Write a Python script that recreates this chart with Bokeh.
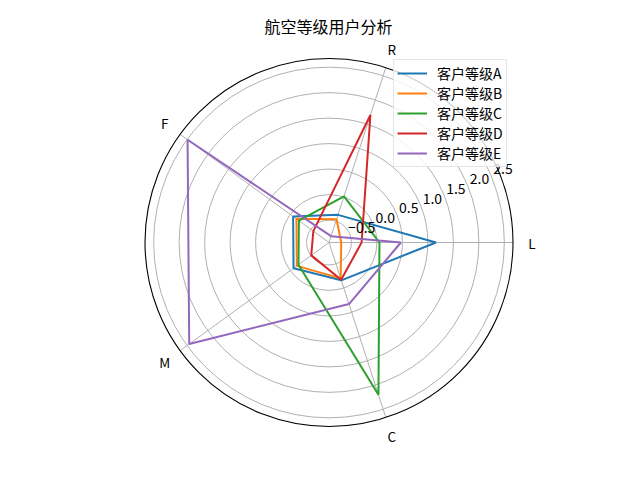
import numpy as np
from bokeh.plotting import figure
from bokeh.models import ColumnDataSource, Legend, LegendItem, Range1d
from bokeh.core.properties import value
from bokeh.embed import file_html
from bokeh.resources import INLINE

# ---- data ----
title_text = "航空等级用户分析"
features = ["L", "R", "F", "M", "C"]
series_names = ["客户等级A", "客户等级B", "客户等级C", "客户等级D", "客户等级E"]
level_A = [1.16, -0.37, -0.07, -0.08, -0.16]
level_B = [-0.70, -0.46, -0.15, -0.16, -0.20]
level_C = [0.05, 0.01, -0.21, -0.20, 2.20]
level_D = [-0.30, 1.69, -0.56, -0.51, -0.17]
level_E = [0.47, -0.81, 2.49, 2.45, 0.33]
r_ticks = [-0.5, 0.0, 0.5, 1.0, 1.5, 2.0, 2.5]
r_min, r_max = -0.94, 2.67

series_values = [level_A, level_B, level_C, level_D, level_E]
colors = ["#1f77b4", "#ff7f0e", "#2ca02c", "#d62728", "#9467bd"]

# ---- layout (pixel-like canvas units) ----
W, H = 640, 480
cx, cy = 328.5, H - 242.0
R_out = 184.0
scale = R_out / (r_max - r_min)
FONT = "Noto Sans CJK SC"

def rad(v):
    return (np.asarray(v, dtype=float) - r_min) * scale

angles = np.arange(len(features)) * 2 * np.pi / len(features)

p = figure(width=W, height=H, x_range=Range1d(0, W), y_range=Range1d(0, H),
           output_backend="svg", toolbar_location=None, min_border=0)
p.axis.visible = False
p.grid.visible = False
p.outline_line_color = None
p.background_fill_color = "white"
p.border_fill_color = "white"

# angular grid lines
p.segment(x0=[cx] * len(angles), y0=[cy] * len(angles),
          x1=list(cx + R_out * np.cos(angles)), y1=list(cy + R_out * np.sin(angles)),
          line_color="#b0b0b0", line_width=1.0)

# radial grid circles
p.circle(x=[cx] * len(r_ticks), y=[cy] * len(r_ticks), radius=list(rad(r_ticks)),
         fill_color=None, line_color="#b0b0b0", line_width=1.0)

# series
renderers = []
for name, vals, col in zip(series_names, series_values, colors):
    rr = rad(vals + vals[:1])
    aa = np.concatenate([angles, angles[:1]])
    r = p.line(x=list(cx + rr * np.cos(aa)), y=list(cy + rr * np.sin(aa)),
               line_color=col, line_width=2.0)
    renderers.append((name, r))

# outer spine
p.circle(x=[cx], y=[cy], radius=[R_out], fill_color=None,
         line_color="black", line_width=1.1)

# angular labels
lab_r = 203.0
p.text(x=list(cx + lab_r * np.cos(angles)), y=list(cy + lab_r * np.sin(angles)),
       text=features, text_align="center", text_baseline="middle",
       text_font=value(FONT), text_font_size="13.5px", text_color="black")

# radial tick labels
ang_lab = np.deg2rad(22.5)
tick_text = [("−" if t < 0 else "") + f"{abs(t):.1f}" for t in r_ticks]
rt = rad(r_ticks)
p.text(x=list(cx + rt * np.cos(ang_lab) + 12), y=list(cy + rt * np.sin(ang_lab) + 6.5),
       text=tick_text, text_align="center", text_baseline="middle",
       text_font=value(FONT), text_font_size="14px", text_color="black")

# title
p.text(x=[328], y=[H - 25], text=[title_text], text_align="center",
       text_baseline="middle", text_font=value(FONT), text_font_size="16px",
       text_color="black")

legend = Legend(items=[LegendItem(label=n, renderers=[r]) for n, r in renderers],
                location=(393, H - 167), glyph_width=30, glyph_height=14,
                label_height=14, spacing=0, padding=3, margin=0,
                label_standoff=10, label_text_font=FONT,
                label_text_font_size="14px", label_text_color="black",
                border_line_color="#cccccc",
                border_line_width=1, background_fill_alpha=0.8)
p.add_layout(legend)

open("out.html", "w").write(file_html(p, INLINE))
